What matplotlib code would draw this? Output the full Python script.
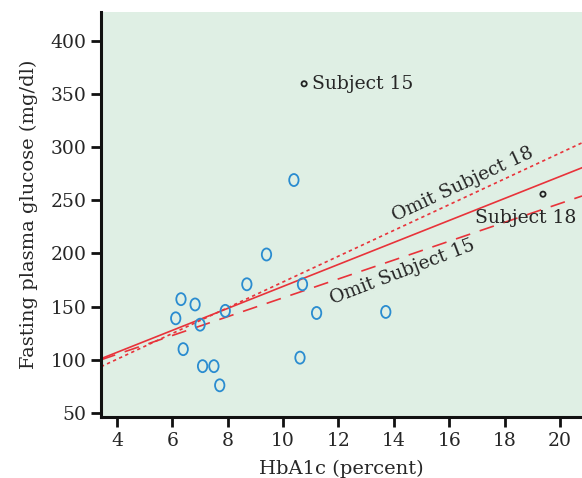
import numpy as np
import matplotlib
matplotlib.use("Agg")
import matplotlib.pyplot as plt
from matplotlib.path import Path
from matplotlib.markers import MarkerStyle
from matplotlib.transforms import Affine2D

# Data
hba1c = [6.12, 6.31, 6.39, 6.82, 7.00, 7.09, 7.50, 7.71, 7.91, 8.69, 9.40,
         10.39, 10.61, 10.70, 11.21, 13.71]
glucose = [139, 157, 110, 152, 133, 94, 94, 76, 146, 171, 199,
           269, 102, 171, 144, 145]
outlier_x = [10.76, 19.39]
outlier_y = [359.5, 255.7]
outlier_labels = ["Subject 15", "Subject 18"]

# Regression lines: (intercept, slope)
fit_names = ["All", "Omit Subject 18", "Omit Subject 15"]
fit_intercepts = [65.7, 52.1, 69.7]
fit_slopes = [10.33, 12.11, 8.86]

xticks = [4, 6, 8, 10, 12, 14, 16, 18, 20]
yticks = [50, 100, 150, 200, 250, 300, 350, 400]

serif = ["DejaVu Serif"]
plt.rcParams['font.family'] = serif

fig = plt.figure(figsize=(5.82, 4.78), dpi=100)
ax = fig.add_axes([101/582, 1-417/478, 481/582, 405/478])
ax.set_facecolor("#dfefe4")
ax.set_xlim(3.42, 20.8)
ax.set_ylim(46.2, 427)

red = "#e8333a"
xs = np.array([3.42, 20.8])
styles = [dict(ls="-", lw=1.2), dict(ls=(0, (2, 2)), lw=1.2), dict(ls=(0, (9, 6)), lw=1.2)]
for b, m, st in zip(fit_intercepts, fit_slopes, styles):
    ax.plot(xs, b + m * xs, color=red, **st, zorder=2)

oval = MarkerStyle(Path.unit_circle().transformed(Affine2D().scale(0.78, 1.0)))
ax.scatter(hba1c, glucose, marker=oval, s=75, facecolors="none",
           edgecolors="#2a8cd0", linewidths=1.3, zorder=3)
ax.scatter(outlier_x, outlier_y, marker="o", s=14, facecolors="none",
           edgecolors="#222222", linewidths=1.3, zorder=3)

tc = "#262626"
ax.text(outlier_x[0] + 0.3, outlier_y[0], outlier_labels[0], fontsize=13.5,
        ha="left", va="center", color=tc)
ax.text(18.77, 233.4, outlier_labels[1], fontsize=13.5, ha="center", va="center",
        color=tc)
ax.text(16.49, 264.5, fit_names[1], fontsize=13.5, ha="center", va="center",
        rotation=25, rotation_mode="anchor", color=tc)
ax.text(14.32, 182.6, fit_names[2], fontsize=13.5, ha="center", va="center",
        rotation=21, rotation_mode="anchor", color=tc)

for s in ["top", "right"]:
    ax.spines[s].set_visible(False)
for s in ["left", "bottom"]:
    ax.spines[s].set_linewidth(2.2)
    ax.spines[s].set_color("#111111")
ax.set_xticks(xticks)
ax.set_yticks(yticks)
ax.tick_params(direction="out", length=7, width=2, labelsize=13.5, colors="#111111")
for lab in ax.get_xticklabels() + ax.get_yticklabels():
    lab.set_color(tc)
ax.set_xlabel("HbA1c (percent)", fontsize=14, labelpad=7, color=tc)
ax.set_ylabel("Fasting plasma glucose (mg/dl)", fontsize=14, labelpad=9, color=tc)

fig.savefig("out.png", dpi=100)
